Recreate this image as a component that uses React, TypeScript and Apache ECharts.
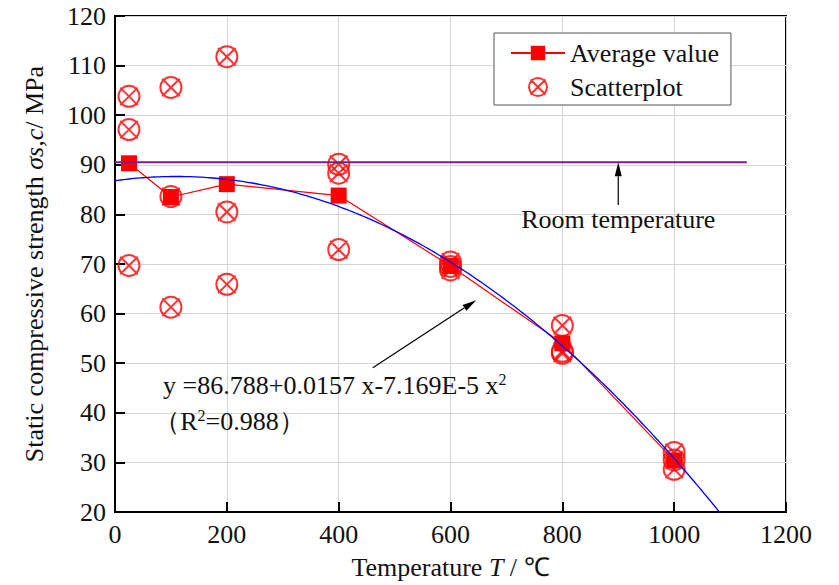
import React, { useEffect, useRef } from "react";
import * as echarts from "echarts";

// Test temperatures (°C) and measured static compressive strength (MPa)
const temperatures = [25, 100, 200, 400, 600, 800, 1000];
const averageValues = [90.3, 83.5, 86.1, 83.8, 69.6, 54.0, 30.4];
const specimenValues = [
  [103.8, 97.1, 69.7],
  [105.6, 83.6, 61.3],
  [111.8, 80.5, 65.9],
  [90.1, 88.3, 72.9],
  [70.4, 69.5, 68.8],
  [57.6, 52.4, 52.0],
  [32.0, 30.5, 28.6],
];

// Quadratic fit y = a + b x + c x^2 (coefficients as printed on the chart)
const fitCoefficients = [86.788, 0.0157, -7.169e-5];
const fitRange = [0, 1085];
const fitStep = 5;

// Room-temperature reference level
const roomTemperatureLevel = 90.5;
const roomTemperatureSpan = [0, 1130];

const FONT = "Liberation Serif, Times New Roman, serif";
const FS = 26;
const CROSS_CIRCLE =
  "path://M10 1 A9 9 0 1 1 10 19 A9 9 0 1 1 10 1 Z M2.5 2.5 L17.5 17.5 M17.5 2.5 L2.5 17.5";

const scatterData: number[][] = [];
temperatures.forEach((t, i) => specimenValues[i].forEach((v) => scatterData.push([t, v])));
const averageData = temperatures.map((t, i) => [t, averageValues[i]]);
const fitData: number[][] = [];
for (let x = fitRange[0]; x <= fitRange[1]; x += fitStep) {
  fitData.push([x, fitCoefficients[0] + fitCoefficients[1] * x + fitCoefficients[2] * x * x]);
}

function arrow(p0: number[], p1: number[], len = 14, half = 3.5) {
  const dx = p1[0] - p0[0];
  const dy = p1[1] - p0[1];
  const d = Math.hypot(dx, dy);
  const ux = dx / d, uy = dy / d;
  const bx = p1[0] - ux * len, by = p1[1] - uy * len;
  return [
    {
      type: "line",
      shape: { x1: p0[0], y1: p0[1], x2: bx, y2: by },
      style: { stroke: "#000", lineWidth: 1.2 },
      silent: true,
    },
    {
      type: "polygon",
      shape: {
        points: [
          [p1[0], p1[1]],
          [bx - uy * half, by + ux * half],
          [bx + uy * half, by - ux * half],
        ],
      },
      style: { fill: "#000" },
      silent: true,
    },
  ];
}

const axisCommon = {
  axisLine: { lineStyle: { color: "#000", width: 2 } },
  axisTick: { inside: true, length: 10, lineStyle: { color: "#000", width: 2 } },
  splitLine: { show: true, lineStyle: { color: "#d4d4d4", width: 1 } },
};

const nameStyle = {
  fontFamily: FONT,
  fontSize: FS,
  color: "#111",
  rich: { i: { fontFamily: FONT, fontSize: FS, fontStyle: "italic", color: "#111" } },
};

export default function App() {
  const ref = useRef<HTMLDivElement>(null);

  useEffect(() => {
    document.body.style.margin = "0";
    const chart = echarts.init(ref.current!, null, { renderer: "svg" });
    chart.setOption({
      animation: false,
      backgroundColor: "#fff",
      textStyle: { fontFamily: FONT },
      grid: {
        left: 115,
        right: 53,
        top: 16,
        bottom: 68,
        show: true,
        borderColor: "#000",
        borderWidth: 2,
        containLabel: false,
      },
      legend: {
        left: 494,
        top: 33,
        orient: "vertical",
        data: ["Average value", "Scatterplot"],
        itemWidth: 54,
        itemHeight: 18,
        itemGap: 8,
        padding: [7, 12, 5, 16],
        borderColor: "#555",
        borderWidth: 1,
        backgroundColor: "#fff",
        textStyle: { fontFamily: FONT, fontSize: FS, color: "#111" },
      },
      xAxis: {
        type: "value",
        min: 0,
        max: 1200,
        interval: 200,
        name: "Temperature {i|T} / ℃",
        nameLocation: "middle",
        nameGap: 42,
        nameTextStyle: nameStyle,
        ...axisCommon,
        axisLabel: {
          fontFamily: FONT,
          fontSize: FS,
          color: "#111",
          margin: 9,
          formatter: (v: number) => String(v),
        },
      },
      yAxis: {
        type: "value",
        min: 20,
        max: 120,
        interval: 10,
        name: "Static compressive strength {i|σs,c}/ MPa",
        nameLocation: "middle",
        nameGap: 68,
        nameTextStyle: nameStyle,
        ...axisCommon,
        axisLabel: { fontFamily: FONT, fontSize: FS, color: "#111", margin: 9 },
      },
      series: [
        {
          name: "Scatterplot",
          type: "scatter",
          data: scatterData,
          symbol: CROSS_CIRCLE,
          symbolSize: 21,
          symbolKeepAspect: true,
          itemStyle: { color: "rgba(0,0,0,0)", borderColor: "#ff0000", borderWidth: 2 },
          z: 2,
        },
        {
          name: "Average value",
          type: "line",
          data: averageData,
          symbol: "rect",
          symbolSize: 16,
          showSymbol: true,
          color: "#ff0000",
          itemStyle: { color: "#ff0000" },
          lineStyle: { color: "#ff0000", width: 1.2 },
          z: 3,
        },
        {
          name: "Fit",
          type: "line",
          data: fitData,
          showSymbol: false,
          clip: true,
          lineStyle: { color: "#0000ff", width: 1.3 },
          itemStyle: { color: "#0000ff" },
          z: 4,
        },
        {
          name: "Room temperature",
          type: "line",
          data: roomTemperatureSpan.map((x) => [x, roomTemperatureLevel]),
          showSymbol: false,
          lineStyle: { color: "#7d1a8f", width: 2 },
          itemStyle: { color: "#7d1a8f" },
          z: 4,
        },
      ],
    });

    const px = (p: number[]) => chart.convertToPixel({ gridIndex: 0 }, p) as number[];
    const roomTail = px([900, 81.9]);
    const roomTip = px([900, roomTemperatureLevel]);
    const fitTail = px([461, 49.1]);
    const fitTip = px([646, 62.7]);
    const roomText = px([900, 78.9]);
    const fitText = px([86, 45.5]);
    const r2Text = px([70, 38.2]);

    const supRich = {
      sup: { fontFamily: FONT, fontSize: 16, fill: "#111", verticalAlign: "top", padding: [0, 0, 12, 0] },
    };

    chart.setOption({
      graphic: [
        ...arrow(roomTail, roomTip),
        ...arrow(fitTail, fitTip),
        {
          type: "text",
          x: roomText[0],
          y: roomText[1],
          silent: true,
          style: {
            text: "Room temperature",
            font: `${FS}px ${FONT}`,
            fill: "#111",
            align: "center",
            verticalAlign: "middle",
          },
        },
        {
          type: "text",
          x: fitText[0],
          y: fitText[1],
          silent: true,
          style: {
            text: "y =86.788+0.0157 x-7.169E-5 x{sup|2}",
            font: `${FS}px ${FONT}`,
            fill: "#111",
            align: "left",
            verticalAlign: "middle",
            rich: supRich,
          },
        },
        {
          type: "text",
          x: r2Text[0],
          y: r2Text[1],
          silent: true,
          style: {
            text: "（R{sup|2}=0.988）",
            font: `${FS}px ${FONT}`,
            fill: "#111",
            align: "left",
            verticalAlign: "middle",
            rich: supRich,
          },
        },
      ],
    });

    return () => chart.dispose();
  }, []);

  return <div ref={ref} style={{ width: 839, height: 585 }} />;
}
